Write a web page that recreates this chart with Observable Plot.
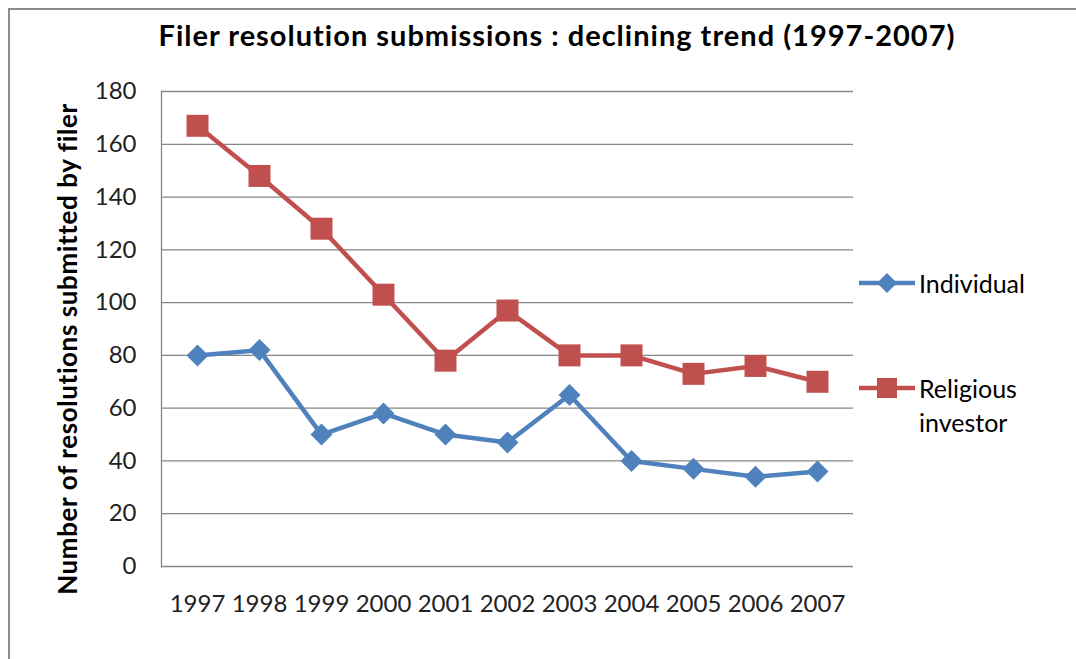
<!DOCTYPE html>
<html>
<head>
<meta charset="utf-8">
<script src="https://cdn.jsdelivr.net/npm/d3@7"></script>
<script src="https://cdn.jsdelivr.net/npm/@observablehq/plot@0.6"></script>
<style>
  html, body { margin: 0; padding: 0; background: #fff; }
  #wrap { position: relative; width: 1076px; height: 659px; overflow: hidden; font-family: Lato, "Open Sans", sans-serif; }
  #border { position: absolute; left: 8px; top: 8px; width: 1100px; height: 700px; border-left: 2px solid #8c8c8c; border-top: 2px solid #8c8c8c; box-sizing: border-box; }
  #title { position: absolute; left: 0; width: 1114px; top: 17px; text-align: center; font-weight: bold; font-size: 29px; letter-spacing: 1px; color: #000; white-space: nowrap; }
  #ylabel { position: absolute; left: 67px; top: 349px; transform: translate(-50%, -50%) rotate(-90deg); font-weight: bold; font-size: 26px; letter-spacing: 0.6px; color: #000; white-space: nowrap; }
  .leg { position: absolute; left: 859px; font-size: 25px; color: #000; line-height: 34px; }
  .leg svg { position: absolute; left: 0; top: 0; }
  .leg span { position: absolute; left: 60px; top: 0; white-space: nowrap; }
  #chart { position: absolute; left: 0; top: 0; }
</style>
</head>
<body>
<div id="wrap">
  <div id="chart"></div>
  <div id="border"></div>
  <div id="title">Filer resolution submissions : declining trend (1997-2007)</div>
  <div id="ylabel">Number of resolutions submitted by filer</div>
  <div class="leg" id="leg1" style="top:266px;"></div>
  <div class="leg" id="leg2" style="top:371px;"></div>
</div>
<script>
const years = ["1997","1998","1999","2000","2001","2002","2003","2004","2005","2006","2007"];
const individual = [80, 82, 50, 58, 50, 47, 65, 40, 37, 34, 36];
const religious = [167, 148, 128, 103, 78, 97, 80, 80, 73, 76, 70];
const seriesNames = ["Individual", "Religious investor"];
const colors = ["#4f81bd", "#c0504d"];
const yTicks = [0, 20, 40, 60, 80, 100, 120, 140, 160, 180];

const diamond = {
  draw(context, size) {
    const d = Math.sqrt(size / Math.PI);
    context.moveTo(0, -d); context.lineTo(d, 0); context.lineTo(0, d); context.lineTo(-d, 0); context.closePath();
  }
};
const square = {
  draw(context, size) {
    const d = Math.sqrt(size / Math.PI);
    context.rect(-d, -d, 2 * d, 2 * d);
  }
};

const data = [];
years.forEach((y, i) => {
  data.push({year: y, value: individual[i], series: seriesNames[0]});
});
years.forEach((y, i) => {
  data.push({year: y, value: religious[i], series: seriesNames[1]});
});
const ind = data.filter(d => d.series === seriesNames[0]);
const rel = data.filter(d => d.series === seriesNames[1]);

const chart = Plot.plot({
  width: 1076,
  height: 659,
  marginLeft: 161,
  marginRight: 223,
  marginTop: 91,
  marginBottom: 93,
  style: {fontFamily: "Lato, 'Open Sans', sans-serif", fontSize: "24px", color: "#222", background: "transparent"},
  x: {type: "point", domain: years, padding: 0.5, label: null},
  y: {domain: [0, 180], label: null},
  marks: [
    Plot.ruleY(yTicks, {stroke: "#868686", strokeWidth: 1.3}),
    Plot.frame({anchor: "left", stroke: "#868686", strokeWidth: 1.3}),
    Plot.axisY(yTicks, {tickSize: 0, tickPadding: 25, fontSize: 24, fill: "#222", label: null}),
    Plot.axisX(years, {tickSize: 0, tickPadding: 28, fontSize: 24, fill: "#222", label: null}),
    Plot.line(ind, {x: "year", y: "value", stroke: colors[0], strokeWidth: 4.5}),
    Plot.line(rel, {x: "year", y: "value", stroke: colors[1], strokeWidth: 4.5}),
    Plot.dot(ind, {x: "year", y: "value", symbol: diamond, r: 11, fill: colors[0], stroke: "none"}),
    Plot.dot(rel, {x: "year", y: "value", symbol: square, r: 11, fill: colors[1], stroke: "none"})
  ]
});
document.getElementById("chart").appendChild(chart);

function legendSwatch(el, color, shape, lines) {
  const svgNS = "http://www.w3.org/2000/svg";
  const svg = document.createElementNS(svgNS, "svg");
  svg.setAttribute("width", 60); svg.setAttribute("height", 34);
  const line = document.createElementNS(svgNS, "line");
  line.setAttribute("x1", 0); line.setAttribute("x2", 56); line.setAttribute("y1", 17); line.setAttribute("y2", 17);
  line.setAttribute("stroke", color); line.setAttribute("stroke-width", 4.5);
  svg.appendChild(line);
  let m;
  if (shape === "diamond") {
    m = document.createElementNS(svgNS, "path");
    m.setAttribute("d", "M28,7L38,17L28,27L18,17Z");
  } else {
    m = document.createElementNS(svgNS, "rect");
    m.setAttribute("x", 18); m.setAttribute("y", 7); m.setAttribute("width", 20); m.setAttribute("height", 20);
  }
  m.setAttribute("fill", color);
  svg.appendChild(m);
  el.appendChild(svg);
  const span = document.createElement("span");
  span.innerHTML = lines.join("<br>");
  el.appendChild(span);
}
legendSwatch(document.getElementById("leg1"), colors[0], "diamond", ["Individual"]);
legendSwatch(document.getElementById("leg2"), colors[1], "square", ["Religious", "investor"]);
</script>
</body>
</html>
